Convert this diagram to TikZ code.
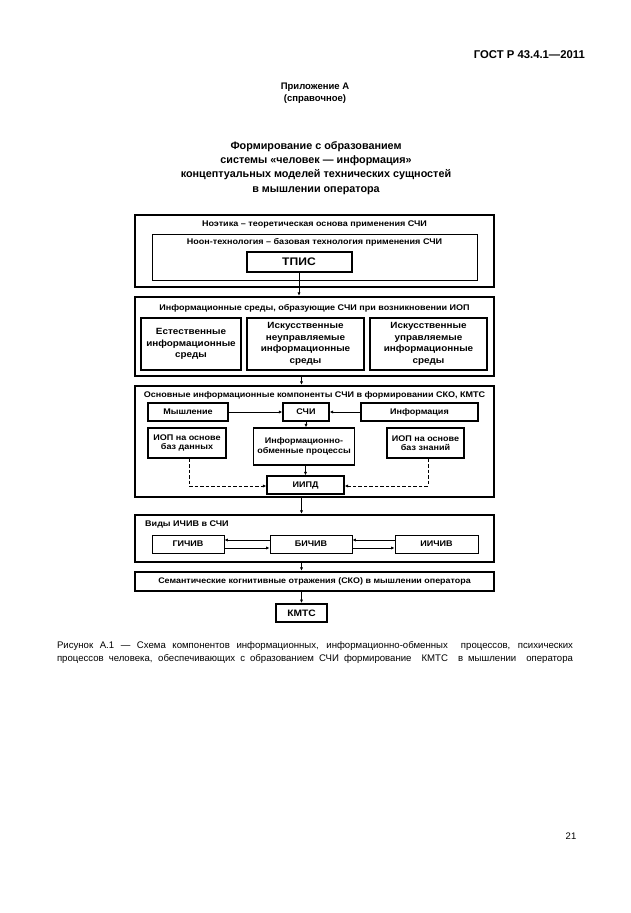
\documentclass[tikz,border=0pt]{standalone}
\usepackage{fontspec}
\setmainfont{Liberation Sans}
\newfontfamily\dg[FakeStretch=1.1]{Liberation Sans}
\usetikzlibrary{arrows.meta}
\begin{document}
\begin{tikzpicture}[x=1pt,y=-1pt,
  frame/.style={draw, line width=2.3pt, minimum width=359pt, inner sep=0pt},
  subbox/.style={draw, line width=1.8pt, align=center, inner sep=0pt, font=\dg\bfseries\fontsize{9}{11.6}\selectfont},
  nbox/.style={draw, line width=1.4pt, align=center, inner sep=0pt, font=\dg\bfseries\fontsize{8.2}{9.6}\selectfont},
  tbox/.style={draw, line width=0.9pt, align=center, inner sep=0pt, font=\dg\bfseries\fontsize{8.2}{9}\selectfont},
  lbl/.style={inner sep=0pt, font=\dg\bfseries\fontsize{8.2}{9}\selectfont},
  arr/.style={-{Latex[length=3.5pt,width=3.2pt]}, line width=0.9pt},
  darr/.style={arr, dash pattern=on 3.5pt off 2pt}]
\useasboundingbox (0,0) rectangle (630,913);
% header
\node[anchor=east, inner sep=0pt, font=\bfseries\fontsize{11.3}{12}\selectfont] (hdr) at (585,55) {ГОСТ Р 43.4.1—2011};
\node[inner sep=0pt, font=\bfseries\fontsize{9.5}{12}\selectfont, align=center] (app) at (315,93) {Приложение А\\(справочное)};
\node[inner sep=0pt, font=\bfseries\fontsize{10.8}{14.3}\selectfont, align=center] (ttl) at (316,168) {Формирование с образованием\\системы «человек — информация»\\концептуальных моделей технических сущностей\\в мышлении оператора};
% box 1
\node[frame, minimum height=72pt] (b1) at (314.5,251) {};
\node[lbl] (b1t) at (314.5,224) {Ноэтика – теоретическая основа применения СЧИ};
\node[draw, line width=1pt, minimum width=325pt, minimum height=46pt] (b1i) at (314.5,257) {};
\node[lbl] (b1it) at (314.5,242) {Ноон-технология – базовая технология применения СЧИ};
\node[subbox, line width=2pt, minimum width=105pt, minimum height=20pt, font=\dg\bfseries\fontsize{11}{12}\selectfont] (tpis) at (299,262) {ТПИС};
% box 2
\node[frame, minimum height=79pt] (b2) at (314.5,336.5) {};
\node[lbl] (b2t) at (314.5,308) {Информационные среды, образующие СЧИ при возникновении ИОП};
\node[subbox, minimum width=100pt, minimum height=52pt] (sa) at (191,344) {Естественные\\информационные\\среды};
\node[subbox, minimum width=117pt, minimum height=52pt] (sb) at (305.5,344) {Искусственные\\неуправляемые\\информационные\\среды};
\node[subbox, minimum width=117pt, minimum height=52pt] (sc) at (428.5,344) {Искусственные\\управляемые\\информационные\\среды};
% box 3
\node[frame, minimum height=111pt] (b3) at (314.5,441.5) {};
\node[lbl] (b3t) at (314.5,395) {Основные информационные компоненты СЧИ в формировании СКО, КМТС};
\node[nbox, minimum width=80pt, minimum height=18pt] (mysh) at (188,412) {Мышление};
\node[nbox, minimum width=46pt, minimum height=18pt] (schi) at (306,412) {СЧИ};
\node[nbox, minimum width=117pt, minimum height=18pt] (info) at (419.5,412) {Информация};
\node[nbox, minimum width=78pt, minimum height=30pt] (iop1) at (187,443) {ИОП на основе\\баз данных};
\node[nbox, minimum width=101pt, minimum height=37pt] (obm) at (304,446.5) {Информационно-\\обменные процессы};
\node[nbox, minimum width=77pt, minimum height=30pt] (iop2) at (425.5,443) {ИОП на основе\\баз знаний};
\node[nbox, minimum width=77pt, minimum height=18pt] (iipd) at (305.5,485) {ИИПД};
% box 4
\node[frame, minimum height=47pt] (b4) at (314.5,538.5) {};
\node[lbl, anchor=west] (b4t) at (145,524) {Виды ИЧИВ в СЧИ};
\node[tbox, minimum width=72pt, minimum height=18pt] (g) at (188,544) {ГИЧИВ};
\node[tbox, minimum width=82pt, minimum height=18pt] (bi) at (311,544) {БИЧИВ};
\node[tbox, minimum width=83pt, minimum height=18pt] (ii) at (436.5,544) {ИИЧИВ};
% box 5
\node[frame, minimum height=19pt, font=\dg\bfseries\fontsize{8.1}{9}\selectfont] (b5) at (314.5,581.5) {Семантические когнитивные отражения (СКО) в мышлении оператора};
\node[subbox, line width=2pt, minimum width=51pt, minimum height=18pt, font=\dg\bfseries\fontsize{9.3}{10}\selectfont] (kmts) at (301.5,613) {КМТС};
% connectors between frames
\draw[arr] (tpis.south) -- (tpis.south |- b2.north);
\draw[arr] (b2.south -| kmts) -- (b3.north -| kmts);
\draw[arr] (b3.south -| kmts) -- (b4.north -| kmts);
\draw[arr] (b4.south -| kmts) -- (b5.north -| kmts);
\draw[arr] (b5.south -| kmts) -- (kmts.north);
% box 3 connectors
\draw[arr] (mysh.east) -- (schi.west);
\draw[arr] (info.west) -- (schi.east);
\draw[arr] (schi.south) -- (schi.south |- obm.north);
\draw[arr] (obm.south -| iipd) -- (iipd.north);
\coordinate (d1) at (189,486);
\coordinate (d2) at (428,486);
\draw[darr] (iop1.south -| d1) -- (d1) -- (d1 -| iipd.west);
\draw[darr] (iop2.south -| d2) -- (d2) -- (d2 -| iipd.east);
% box 4 connectors
\draw[arr] ([yshift=4pt]bi.west) -- ([yshift=4pt]bi.west -| g.east);
\draw[arr] ([yshift=-4pt]g.east) -- ([yshift=-4pt]g.east -| bi.west);
\draw[arr] ([yshift=4pt]ii.west) -- ([yshift=4pt]ii.west -| bi.east);
\draw[arr] ([yshift=-4pt]bi.east) -- ([yshift=-4pt]bi.east -| ii.west);
% caption
\node[inner sep=0pt, font=\fontsize{9.6}{11}\selectfont] (cap1) at (315,646) {\makebox[516pt][s]{Рисунок А.1 — Схема компонентов информационных, информационно-обменных \ процессов, психических}};
\node[inner sep=0pt, font=\fontsize{9.6}{11}\selectfont] (cap2) at (315,659) {\makebox[516pt][s]{процессов человека, обеспечивающих с образованием СЧИ формирование \ КМТС \ в мышлении \ оператора}};
\node[inner sep=0pt, font=\fontsize{9.5}{10}\selectfont] (pg) at (571,836) {21};
\end{tikzpicture}
\end{document}
